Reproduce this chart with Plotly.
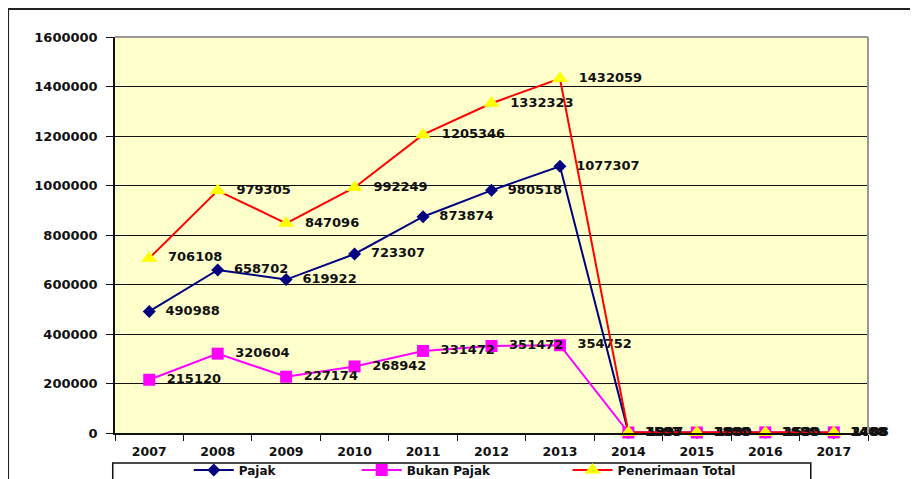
import plotly.graph_objects as go

# data
tahun = ["2007", "2008", "2009", "2010", "2011", "2012", "2013", "2014", "2015", "2016", "2017"]
pajak = [490988, 658702, 619922, 723307, 873874, 980518, 1077307, 1597, 1800, 1980, 1408]
bukan_pajak = [215120, 320604, 227174, 268942, 331472, 351472, 354752, 1995, 2000, 2500, 2488]
penerimaan_total = [706108, 979305, 847096, 992249, 1205346, 1332323, 1432059, 1997, 1880, 1530, 1708]

y_ticks = [0, 200000, 400000, 600000, 800000, 1000000, 1200000, 1400000, 1600000]

font_family = "DejaVu Sans"
label_font = dict(family=font_family, size=13, color="#111111", weight="bold")
pad = "\u00a0\u00a0"  # push labels a little further right of the markers

fig = go.Figure()

fig.add_trace(go.Scatter(
    x=tahun, y=pajak, name="Pajak", mode="lines+markers+text",
    line=dict(color="#000080", width=2),
    marker=dict(symbol="diamond", size=10, color="#000080"),
    text=[pad + str(v) for v in pajak], textposition="middle right",
    textfont=label_font, cliponaxis=False, legend="legend",
))
fig.add_trace(go.Scatter(
    x=tahun, y=bukan_pajak, name="Bukan Pajak", mode="lines+markers+text",
    line=dict(color="#FF00FF", width=2),
    marker=dict(symbol="square", size=12, color="#FF00FF"),
    text=[pad + str(v) for v in bukan_pajak], textposition="middle right",
    textfont=label_font, cliponaxis=False, legend="legend2",
))
fig.add_trace(go.Scatter(
    x=tahun, y=penerimaan_total, name="Penerimaan Total", mode="lines+markers+text",
    line=dict(color="#FF0000", width=2),
    marker=dict(symbol="triangle-up", size=14, color="#FFFF00"),
    text=[pad + str(v) for v in penerimaan_total], textposition="middle right",
    textfont=label_font, cliponaxis=False, legend="legend3",
))

leg_font = dict(family=font_family, size=12, color="#111111", weight="bold")
leg_common = dict(orientation="h", yanchor="top", y=-0.057, xanchor="left",
                  font=leg_font, bgcolor="rgba(0,0,0,0)", itemwidth=40)

# page body has an 8px margin, so the figure is a bit smaller than the window
fig.update_layout(
    width=910, height=471,
    margin=dict(l=107, r=50, t=29, b=46, autoexpand=False),
    paper_bgcolor="white",
    plot_bgcolor="#FFFFCC",
    showlegend=True,
    legend=dict(x=0.098, **leg_common),
    legend2=dict(x=0.321, **leg_common),
    legend3=dict(x=0.601, **leg_common),
    shapes=[
        # outer chart border
        dict(type="rect", xref="paper", yref="paper", x0=-0.142, x1=1.2, y0=-0.3, y1=1.0707,
             line=dict(color="#222222", width=2), layer="below"),
        # legend box
        dict(type="rect", xref="paper", yref="paper", x0=-0.003, x1=0.924, y0=-0.3, y1=-0.0758,
             line=dict(color="#111111", width=1.5)),
        # plot area border top/right
        dict(type="line", xref="paper", yref="paper", x0=0, x1=1, y0=1, y1=1,
             line=dict(color="#999999", width=2)),
        dict(type="line", xref="paper", yref="paper", x0=1, x1=1, y0=0, y1=1,
             line=dict(color="#999999", width=2)),
    ],
)

fig.update_xaxes(
    type="category", range=[-0.5, len(tahun) - 0.5],
    tickson="boundaries", ticks="outside", ticklen=6, tickcolor="#111111",
    showline=True, linecolor="#111111", linewidth=1.5, showgrid=False, automargin=False,
    ticklabelstandoff=6,
    tickfont=dict(family=font_family, size=12.5, color="#111111", weight="bold"),
)
fig.update_yaxes(
    range=[0, 1600000], tickvals=y_ticks, tickformat="d",
    ticks="outside", ticklen=7, tickcolor="#111111", automargin=False,
    ticklabelstandoff=6,
    showline=True, linecolor="#111111", linewidth=1.5,
    showgrid=True, gridcolor="#111111", gridwidth=1, zeroline=False,
    tickfont=dict(family=font_family, size=13, color="#111111", weight="bold"),
)

fig.write_html("out.html")
